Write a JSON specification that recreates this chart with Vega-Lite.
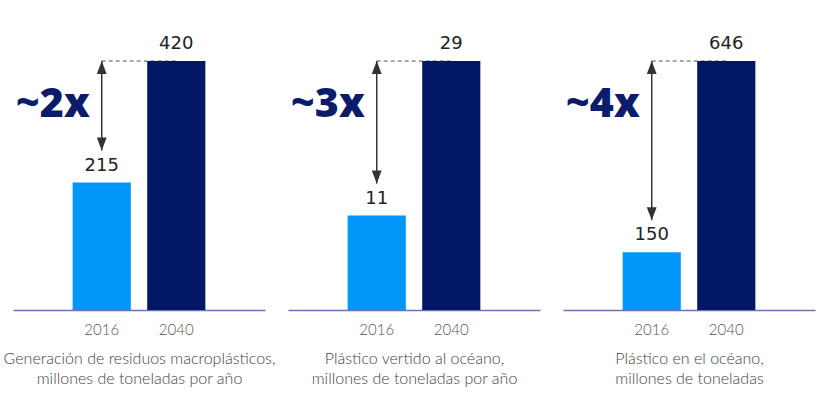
{
  "$schema": "https://vega.github.io/schema/vega-lite/v6.json",
  "padding": {"left": 3, "top": 20, "right": 5, "bottom": 5},
  "background": "white",
  "bounds": "flush",
  "spacing": 23,
  "datasets": {
    "bars": [
      {"panel": "A", "year": "2016", "value": 215},
      {"panel": "A", "year": "2040", "value": 420},
      {"panel": "B", "year": "2016", "value": 11},
      {"panel": "B", "year": "2040", "value": 29},
      {"panel": "C", "year": "2016", "value": 150},
      {"panel": "C", "year": "2040", "value": 646}
    ],
    "notes": [
      {"panel": "A", "year": "2016", "start": 215, "end": 420, "label": "~2x"},
      {"panel": "B", "year": "2016", "start": 11, "end": 29, "label": "~3x"},
      {"panel": "C", "year": "2016", "start": 150, "end": 646, "label": "~4x"}
    ]
  },
  "hconcat": [
    {
      "width": 252, "height": 290,
      "encoding": {
        "x": {"field": "year", "type": "nominal", "scale": {"domain": ["2016", "2040"], "paddingInner": 0.22, "paddingOuter": 0.8},
          "axis": {"title": ["Generación de residuos macroplásticos,", "millones de toneladas por año"]}}
      },
      "layer": [
        {"data": {"name": "notes"}, "transform": [{"filter": "datum.panel === 'A'"}],
          "mark": {"type": "rule", "strokeDash": [4, 3], "color": "#555555", "strokeWidth": 1},
          "encoding": {"x2": {"datum": "2040"}, "y": {"field": "end", "type": "quantitative", "scale": {"domain": [0, 489.2], "nice": false}, "axis": null}}},
        {"data": {"name": "bars"}, "transform": [{"filter": "datum.panel === 'A'"}],
          "mark": {"type": "bar"},
          "encoding": {
            "y": {"field": "value", "type": "quantitative", "scale": {"domain": [0, 489.2], "nice": false}, "axis": null},
            "color": {"field": "year", "type": "nominal", "scale": {"domain": ["2016", "2040"], "range": ["#0096fa", "#021866"]}, "legend": null}}},
        {"data": {"name": "bars"}, "transform": [{"filter": "datum.panel === 'A'"}],
          "mark": {"type": "text", "baseline": "bottom", "dy": -8, "fontSize": 18, "font": "DejaVu Sans", "color": "#222222"},
          "encoding": {"y": {"field": "value", "type": "quantitative", "scale": {"domain": [0, 489.2], "nice": false}, "axis": null}, "text": {"field": "value", "type": "quantitative"}}},
        {"data": {"name": "notes"}, "transform": [{"filter": "datum.panel === 'A'"}],
          "mark": {"type": "rule", "color": "#333333", "strokeWidth": 1.5, "y2Offset": -32},
          "encoding": {"y": {"field": "end", "type": "quantitative", "scale": {"domain": [0, 489.2], "nice": false}, "axis": null}, "y2": {"field": "start"}}},
        {"data": {"name": "notes"}, "transform": [{"filter": "datum.panel === 'A'"}],
          "mark": {"type": "point", "shape": "M0,0L0.38,1L-0.38,1Z", "size": 676, "filled": true, "color": "#333333", "opacity": 1},
          "encoding": {"y": {"field": "end", "type": "quantitative", "scale": {"domain": [0, 489.2], "nice": false}, "axis": null}}},
        {"data": {"name": "notes"}, "transform": [{"filter": "datum.panel === 'A'"}],
          "mark": {"type": "point", "shape": "M0,0L0.38,-1L-0.38,-1Z", "size": 676, "filled": true, "color": "#333333", "opacity": 1, "yOffset": -32},
          "encoding": {"y": {"field": "start", "type": "quantitative", "scale": {"domain": [0, 489.2], "nice": false}, "axis": null}}},
        {"data": {"name": "notes"}, "transform": [{"filter": "datum.panel === 'A'"}],
          "mark": {"type": "text", "align": "right", "baseline": "middle", "dx": -12, "dy": 44, "fontSize": 41, "fontWeight": 800, "font": "Open Sans", "color": "#0b1c6b"},
          "encoding": {"y": {"field": "end", "type": "quantitative", "scale": {"domain": [0, 489.2], "nice": false}, "axis": null}, "text": {"field": "label"}}}
      ]
    },
    {
      "width": 252, "height": 290,
      "encoding": {
        "x": {"field": "year", "type": "nominal", "scale": {"domain": ["2016", "2040"], "paddingInner": 0.22, "paddingOuter": 0.8},
          "axis": {"title": ["Plástico vertido al océano,", "millones de toneladas por año"]}}
      },
      "layer": [
        {"data": {"name": "notes"}, "transform": [{"filter": "datum.panel === 'B'"}],
          "mark": {"type": "rule", "strokeDash": [4, 3], "color": "#555555", "strokeWidth": 1},
          "encoding": {"x2": {"datum": "2040"}, "y": {"field": "end", "type": "quantitative", "scale": {"domain": [0, 33.78], "nice": false}, "axis": null}}},
        {"data": {"name": "bars"}, "transform": [{"filter": "datum.panel === 'B'"}],
          "mark": {"type": "bar"},
          "encoding": {
            "y": {"field": "value", "type": "quantitative", "scale": {"domain": [0, 33.78], "nice": false}, "axis": null},
            "color": {"field": "year", "type": "nominal", "scale": {"domain": ["2016", "2040"], "range": ["#0096fa", "#021866"]}, "legend": null}}},
        {"data": {"name": "bars"}, "transform": [{"filter": "datum.panel === 'B'"}],
          "mark": {"type": "text", "baseline": "bottom", "dy": -8, "fontSize": 18, "font": "DejaVu Sans", "color": "#222222"},
          "encoding": {"y": {"field": "value", "type": "quantitative", "scale": {"domain": [0, 33.78], "nice": false}, "axis": null}, "text": {"field": "value", "type": "quantitative"}}},
        {"data": {"name": "notes"}, "transform": [{"filter": "datum.panel === 'B'"}],
          "mark": {"type": "rule", "color": "#333333", "strokeWidth": 1.5, "y2Offset": -32},
          "encoding": {"y": {"field": "end", "type": "quantitative", "scale": {"domain": [0, 33.78], "nice": false}, "axis": null}, "y2": {"field": "start"}}},
        {"data": {"name": "notes"}, "transform": [{"filter": "datum.panel === 'B'"}],
          "mark": {"type": "point", "shape": "M0,0L0.38,1L-0.38,1Z", "size": 676, "filled": true, "color": "#333333", "opacity": 1},
          "encoding": {"y": {"field": "end", "type": "quantitative", "scale": {"domain": [0, 33.78], "nice": false}, "axis": null}}},
        {"data": {"name": "notes"}, "transform": [{"filter": "datum.panel === 'B'"}],
          "mark": {"type": "point", "shape": "M0,0L0.38,-1L-0.38,-1Z", "size": 676, "filled": true, "color": "#333333", "opacity": 1, "yOffset": -32},
          "encoding": {"y": {"field": "start", "type": "quantitative", "scale": {"domain": [0, 33.78], "nice": false}, "axis": null}}},
        {"data": {"name": "notes"}, "transform": [{"filter": "datum.panel === 'B'"}],
          "mark": {"type": "text", "align": "right", "baseline": "middle", "dx": -12, "dy": 44, "fontSize": 41, "fontWeight": 800, "font": "Open Sans", "color": "#0b1c6b"},
          "encoding": {"y": {"field": "end", "type": "quantitative", "scale": {"domain": [0, 33.78], "nice": false}, "axis": null}, "text": {"field": "label"}}}
      ]
    },
    {
      "width": 252, "height": 290,
      "encoding": {
        "x": {"field": "year", "type": "nominal", "scale": {"domain": ["2016", "2040"], "paddingInner": 0.22, "paddingOuter": 0.8},
          "axis": {"title": ["Plástico en el océano,", "millones de toneladas"]}}
      },
      "layer": [
        {"data": {"name": "notes"}, "transform": [{"filter": "datum.panel === 'C'"}],
          "mark": {"type": "rule", "strokeDash": [4, 3], "color": "#555555", "strokeWidth": 1},
          "encoding": {"x2": {"datum": "2040"}, "y": {"field": "end", "type": "quantitative", "scale": {"domain": [0, 752.4], "nice": false}, "axis": null}}},
        {"data": {"name": "bars"}, "transform": [{"filter": "datum.panel === 'C'"}],
          "mark": {"type": "bar"},
          "encoding": {
            "y": {"field": "value", "type": "quantitative", "scale": {"domain": [0, 752.4], "nice": false}, "axis": null},
            "color": {"field": "year", "type": "nominal", "scale": {"domain": ["2016", "2040"], "range": ["#0096fa", "#021866"]}, "legend": null}}},
        {"data": {"name": "bars"}, "transform": [{"filter": "datum.panel === 'C'"}],
          "mark": {"type": "text", "baseline": "bottom", "dy": -8, "fontSize": 18, "font": "DejaVu Sans", "color": "#222222"},
          "encoding": {"y": {"field": "value", "type": "quantitative", "scale": {"domain": [0, 752.4], "nice": false}, "axis": null}, "text": {"field": "value", "type": "quantitative"}}},
        {"data": {"name": "notes"}, "transform": [{"filter": "datum.panel === 'C'"}],
          "mark": {"type": "rule", "color": "#333333", "strokeWidth": 1.5, "y2Offset": -32},
          "encoding": {"y": {"field": "end", "type": "quantitative", "scale": {"domain": [0, 752.4], "nice": false}, "axis": null}, "y2": {"field": "start"}}},
        {"data": {"name": "notes"}, "transform": [{"filter": "datum.panel === 'C'"}],
          "mark": {"type": "point", "shape": "M0,0L0.38,1L-0.38,1Z", "size": 676, "filled": true, "color": "#333333", "opacity": 1},
          "encoding": {"y": {"field": "end", "type": "quantitative", "scale": {"domain": [0, 752.4], "nice": false}, "axis": null}}},
        {"data": {"name": "notes"}, "transform": [{"filter": "datum.panel === 'C'"}],
          "mark": {"type": "point", "shape": "M0,0L0.38,-1L-0.38,-1Z", "size": 676, "filled": true, "color": "#333333", "opacity": 1, "yOffset": -32},
          "encoding": {"y": {"field": "start", "type": "quantitative", "scale": {"domain": [0, 752.4], "nice": false}, "axis": null}}},
        {"data": {"name": "notes"}, "transform": [{"filter": "datum.panel === 'C'"}],
          "mark": {"type": "text", "align": "right", "baseline": "middle", "dx": -12, "dy": 44, "fontSize": 41, "fontWeight": 800, "font": "Open Sans", "color": "#0b1c6b"},
          "encoding": {"y": {"field": "end", "type": "quantitative", "scale": {"domain": [0, 752.4], "nice": false}, "axis": null}, "text": {"field": "label"}}}
      ]
    }
  ],
  "config": {
    "view": {"stroke": null},
    "axisX": {
      "domainColor": "#6b74ad", "domainWidth": 1.5, "ticks": false, "grid": false,
      "labelAngle": 0, "labelPadding": 12, "labelFont": "Lato", "labelFontSize": 15, "labelFontWeight": 300, "labelColor": "#555555",
      "titleFont": "Lato", "titleFontSize": 16, "titleFontWeight": 300, "titleColor": "#444444", "titlePadding": 13, "titleLineHeight": 20
    }
  }
}
